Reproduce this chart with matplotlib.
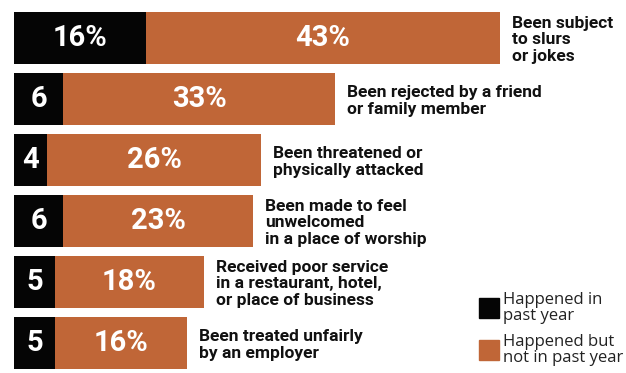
import matplotlib
matplotlib.use("Agg")
import matplotlib.pyplot as plt
from matplotlib import font_manager
from matplotlib.patches import Rectangle
import numpy as np

# share of respondents who say each thing has happened to them
categories = [
    "Been subject\nto slurs\nor jokes",
    "Been rejected by a friend\nor family member",
    "Been threatened or\nphysically attacked",
    "Been made to feel\nunwelcomed\nin a place of worship",
    "Received poor service\nin a restaurant, hotel,\nor place of business",
    "Been treated unfairly\nby an employer",
]
past_year = [16, 6, 4, 6, 5, 5]
not_past_year = [43, 33, 26, 23, 18, 16]
past_year_labels = ["16%", "6", "4", "6", "5", "5"]
not_past_year_labels = ["43%", "33%", "26%", "23%", "18%", "16%"]
legend_labels = ["Happened in\npast year", "Happened but\nnot in past year"]

BLACK = "#050505"
ORANGE = "#C06637"
TEXT = "#111111"


def pick_font(candidates):
    names = {f.name for f in font_manager.fontManager.ttflist}
    for c in candidates:
        if c in names:
            return c
    return "DejaVu Sans"


bold_face = pick_font(["Roboto", "Open Sans", "DejaVu Sans"])
regular = pick_font(["Open Sans", "Lato", "DejaVu Sans"])

W, H = 626, 373
fig = plt.figure(figsize=(W / 100, H / 100), dpi=100)
ax = fig.add_axes([14 / W, 0, 1 - 14 / W, 1])

px_per_unit = 8.24
pitch = 61.0
y = np.arange(len(categories))
ax.set_xlim(0, (W - 14) / px_per_unit)
ax.set_ylim((H - 38) / pitch, -38 / pitch)
ax.axis("off")

bar_h = 52 / pitch
ax.barh(y, past_year, height=bar_h, color=BLACK)
ax.barh(y, not_past_year, left=past_year, height=bar_h, color=ORANGE)

gap = 12 / px_per_unit
for i in range(len(categories)):
    a, b = past_year[i], not_past_year[i]
    ax.text(a / 2, y[i], past_year_labels[i], ha="center", va="center",
            color="white", fontsize=21, fontweight="bold", family=bold_face)
    ax.text(a + b / 2, y[i], not_past_year_labels[i], ha="center", va="center",
            color="white", fontsize=21, fontweight="bold", family=bold_face)
    ax.text(a + b + gap, y[i] + 0.03, categories[i], ha="left", va="center",
            color=TEXT, fontsize=12.5, fontweight="bold", family=bold_face,
            linespacing=1.12)

# legend drawn as plain squares + labels in pixel-based figure coords
for k, (col, lab) in enumerate(zip([BLACK, ORANGE], legend_labels)):
    top = 298 + k * 42
    fig.patches.append(Rectangle((479 / W, 1 - (top + 20) / H), 20 / W, 20 / H,
                                 transform=fig.transFigure, color=col))
    fig.text(503 / W, 1 - (top + 10) / H, lab, ha="left", va="center",
             fontsize=12, color="#222222", family=regular, linespacing=1.0)

fig.savefig("out.png", dpi=100)
